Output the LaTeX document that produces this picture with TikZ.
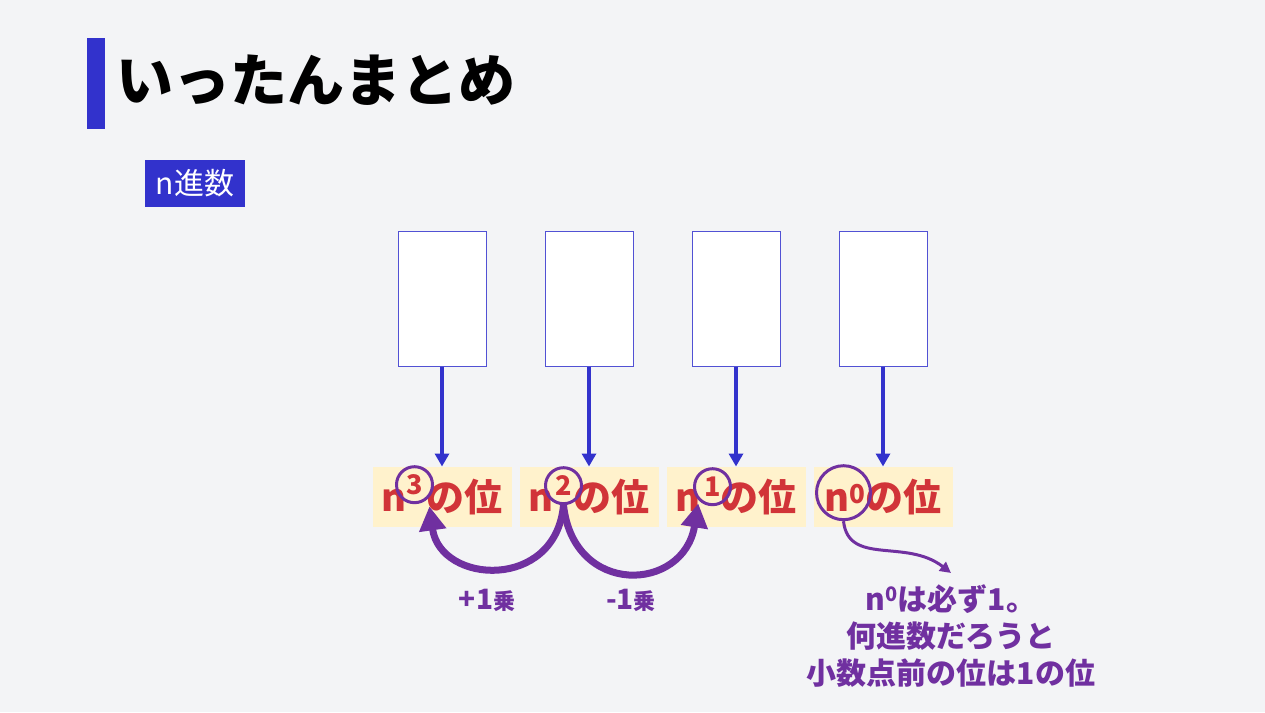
\documentclass[tikz,border=0pt]{standalone}
\usepackage{xcolor}
\usepackage{fontspec}
\setmainfont{Noto Sans CJK JP}
\usepackage{tikz}
\usetikzlibrary{arrows.meta,positioning,calc}

\definecolor{pagebg}{HTML}{F3F4F6}
\definecolor{mainblue}{HTML}{3232CC}
\definecolor{placecream}{HTML}{FFF2CC}
\definecolor{placered}{HTML}{D13438}
\definecolor{notepurple}{HTML}{7030A0}

\begin{document}
\begin{tikzpicture}[x=1pt, y=-1pt,
    colbox/.style={rectangle, draw=mainblue!85, line width=1pt, fill=white, minimum width=88pt, minimum height=135pt, inner sep=0pt},
    placebox/.style={rectangle, fill=placecream, minimum width=139pt, minimum height=60pt, inner sep=0pt, text=placered, font=\fontsize{38}{38}\selectfont\bfseries},
    expring/.style={circle, draw=notepurple, line width=3pt, minimum size=36pt, inner sep=0pt, text=placered, font=\fontsize{27}{27}\selectfont\bfseries},
    steplabel/.style={text=notepurple, inner sep=0pt, font=\fontsize{28}{28}\selectfont\bfseries},
    note/.style={text=notepurple, inner xsep=0pt, inner ysep=11pt, align=center, font=\fontsize{30}{37}\selectfont\bfseries},
    downline/.style={draw=mainblue, line width=4pt, -{Triangle[length=13pt,width=14pt]}},
    jumpline/.style={draw=notepurple, line width=7pt, -{Triangle[length=24pt,width=26pt]}},
    noteline/.style={draw=notepurple, line width=3pt, -{Triangle[length=11pt,width=11pt]}}]

    % Page
    \fill[pagebg] (0,0) rectangle (1265,712);
    \useasboundingbox (0,0) rectangle (1265,712);

    % Heading
    \node[fill=mainblue, minimum width=18pt, minimum height=91pt, inner sep=0pt] (bar) at (96,83.5) {};
    \node[anchor=west, inner sep=0pt, font=\fontsize{57}{57}\selectfont\bfseries] (title) at (116,80) {いったんまとめ};
    \node[fill=mainblue, text=white, minimum width=100pt, minimum height=47pt, inner sep=0pt, font=\fontsize{30}{30}\selectfont] (tag) at (195,183.5) {n進数};

    % Digit boxes
    \node[colbox] (col3) at (442,298.5) {};
    \node[colbox, right=58pt of col3] (col2) {};
    \node[colbox, right=58pt of col2] (col1) {};
    \node[colbox, right=58pt of col1] (col0) {};

    % Place names
    \node[placebox, below=100pt of col3] (place3) {n\hspace{20pt}の位};
    \node[placebox, below=100pt of col2] (place2) {n\hspace{20pt}の位};
    \node[placebox, below=100pt of col1] (place1) {n\hspace{20pt}の位};
    \node[placebox, below=100pt of col0] (place0) {n{\fontsize{26}{26}\selectfont\raisebox{8pt}{0}}の位};

    % Exponent rings
    \node[expring] (ring3) at ([xshift=-27.5pt,yshift=12pt]place3.center) {3};
    \node[expring] (ring2) at ([xshift=-25.5pt,yshift=11pt]place2.center) {2};
    \node[expring] (ring1) at ([xshift=-23.5pt,yshift=10pt]place1.center) {1};
    \node[expring, minimum size=54pt] (ring0) at ([xshift=-39.5pt,yshift=4pt]place0.center) {};

    % Connectors
    \draw[downline] (col3) -- (place3);
    \draw[downline] (col2) -- (place2);
    \draw[downline] (col1) -- (place1);
    \draw[downline] (col0) -- (place0);

    \draw[jumpline, shorten >=8pt] (ring2.south) .. controls +(-8,86) and +(12,86) .. (ring3.south east);
    \draw[jumpline, shorten >=3pt] (ring2.south) .. controls +(10,92) and +(-15,92) .. (ring1.south west);

    % Step labels
    \node[steplabel] (plus) at (487,600) {+1{\fontsize{22}{22}\selectfont 乗}};
    \node[steplabel] (minus) at (631,600) {-1{\fontsize{22}{22}\selectfont 乗}};

    % Note on n^0
    \node[note, anchor=north] (zeronote) at (951,573) {n{\fontsize{20}{20}\selectfont\raisebox{9pt}{0}}は必ず1。\\何進数だろうと\\小数点前の位は1の位};
    \draw[noteline] (ring0.south) .. controls +(5,45) and +(-45,-35) .. (zeronote.north);
\end{tikzpicture}
\end{document}
